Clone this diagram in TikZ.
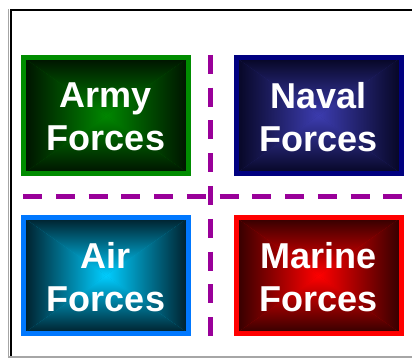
\documentclass[tikz,border=0pt]{standalone}
\usepackage{fontspec}
\setmainfont{Liberation Sans}
\definecolor{sep}{RGB}{153,0,153}
\definecolor{armyB}{RGB}{0,140,0}
\definecolor{armyE}{RGB}{0,18,0}
\definecolor{armyC}{RGB}{0,135,0}
\definecolor{navyB}{RGB}{0,0,128}
\definecolor{navyE}{RGB}{6,6,36}
\definecolor{navyC}{RGB}{60,60,175}
\definecolor{airB}{RGB}{0,120,255}
\definecolor{airE}{RGB}{0,30,42}
\definecolor{airC}{RGB}{0,205,255}
\definecolor{marB}{RGB}{255,0,0}
\definecolor{marE}{RGB}{50,0,0}
\definecolor{marC}{RGB}{255,0,0}
\newcommand{\lowline}[1]{\raisebox{-1.5pt}[\height][\depth]{#1}}
\tikzset{
  forcebox/.style n args={3}{
    draw=#1, line width=5pt, fill=#3!75!#2,
    minimum width=165pt, minimum height=116pt, inner sep=0pt,
    align=center, text=white,
    font=\fontsize{36}{43}\selectfont\bfseries,
    path picture={
      \coordinate (pc) at (path picture bounding box.center);
      \shade[top color=#2, middle color=#3!78!#2, bottom color=#3]
        (path picture bounding box.north west) -- (path picture bounding box.north east) -- (pc) -- cycle;
      \shade[top color=#3, middle color=#3!78!#2, bottom color=#2]
        (path picture bounding box.south west) -- (path picture bounding box.south east) -- (pc) -- cycle;
      \shade[left color=#2, middle color=#3!78!#2, right color=#3]
        (path picture bounding box.north west) -- (path picture bounding box.south west) -- (pc) -- cycle;
      \shade[left color=#3, middle color=#3!78!#2, right color=#2]
        (path picture bounding box.north east) -- (path picture bounding box.south east) -- (pc) -- cycle;
    }
  },
  sepline/.style={draw=sep, line width=5pt, dash pattern=on 19pt off 13.75pt},
}
\begin{document}
\begin{tikzpicture}[x=1pt,y=-1pt]
\useasboundingbox (0,0) rectangle (412,358);
% window frame
\coordinate (ftl) at (11,10);
\coordinate (ftr) at (412,10);
\coordinate (fbl) at (11,358);
\draw[black, line width=2pt] (ftr) -- (ftl) -- (fbl);
\draw[gray!70, line width=1pt] (8.8,9) -- (8.8,358);
\draw[gray!70, line width=1.2pt] (9,357) -- (412,357);
% boxes
\node[forcebox={armyB}{armyE}{armyC}] (army) at (106,115.5) {\lowline{Army}\\\lowline{Forces}};
\node[forcebox={navyB}{navyE}{navyC}] (naval) at (318.5,115.5) {\lowline{Naval}\\\lowline{Forces}};
\node[forcebox={airB}{airE}{airC}] (air) at (106,275.5) {\lowline{Air}\\\lowline{Forces}};
\node[forcebox={marB}{marE}{marC}] (marine) at (318.5,275.5) {\lowline{Marine}\\\lowline{Forces}};
% separators
\coordinate (vtop) at (210,55);
\coordinate (vbot) at (210,336);
\coordinate (hleft) at (23,196.5);
\coordinate (hright) at (402,196.5);
\draw[sepline] (hleft) -- (hright);
\draw[sepline] (vtop) -- (vbot);
\end{tikzpicture}
\end{document}
